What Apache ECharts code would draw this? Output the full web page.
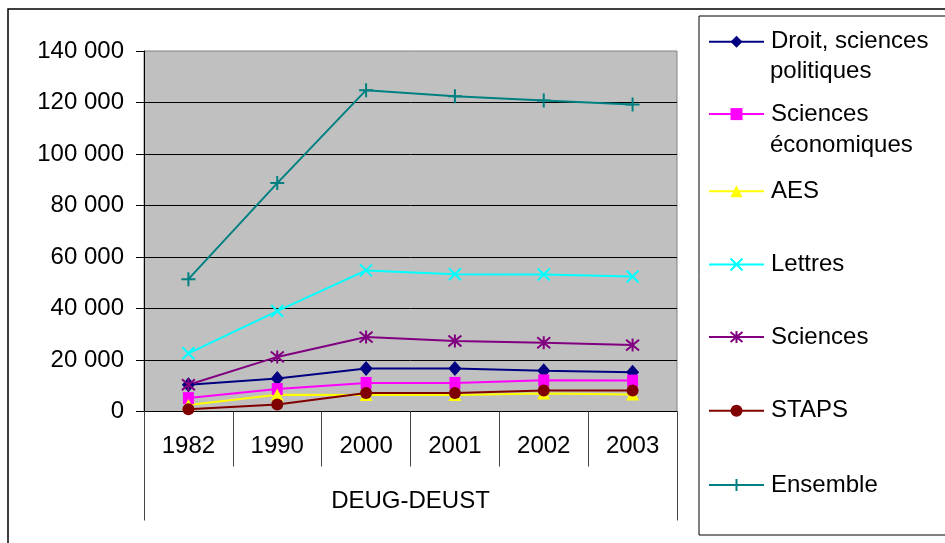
<!DOCTYPE html>
<html>
<head>
<meta charset="utf-8">
<script src="https://cdn.jsdelivr.net/npm/echarts@6/dist/echarts.min.js"></script>
<style>html,body{margin:0;padding:0;background:#fff}#c{width:945px;height:543px}</style>
</head>
<body>
<div id="c"></div>
<script>
const categories = ['1982', '1990', '2000', '2001', '2002', '2003'];
const groupLabel = ['DEUG-DEUST'];
const droit = [10400, 12800, 16700, 16700, 15800, 15200];
const sciEco = [5200, 8700, 11100, 11100, 12100, 12000];
const aes = [2500, 6500, 6400, 6400, 7000, 6600];
const lettres = [22600, 39000, 54800, 53300, 53200, 52400];
const sciences = [10400, 21200, 28900, 27400, 26700, 25800];
const staps = [900, 2700, 7200, 7200, 8200, 8200];
const ensemble = [51400, 88700, 124800, 122400, 120800, 119200];
const yTicks = [0, 20000, 40000, 60000, 80000, 100000, 120000, 140000];

const FONT = "'Liberation Sans', Arial, sans-serif";
const names = ['Droit, sciences', 'Sciences', 'AES', 'Lettres', 'Sciences ', 'STAPS', 'Ensemble'];
const seriesDefs = [
  {name: names[0], data: droit, color: '#000080', symbol: 'diamond', size: [13, 15], stroke: false},
  {name: names[1], data: sciEco, color: '#FF00FF', symbol: 'rect', size: [11, 12], stroke: false},
  {name: names[2], data: aes, color: '#FFFF00', symbol: 'triangle', size: [13, 12], stroke: false},
  {name: names[3], data: lettres, color: '#00FFFF', symbol: 'path://M0,0L10,10M10,0L0,10', size: 12, stroke: true},
  {name: names[4], data: sciences, color: '#800080', symbol: 'path://M0,1L10,11M10,1L0,11M5,0L5,12', size: 13, stroke: true},
  {name: names[5], data: staps, color: '#800000', symbol: 'circle', size: 12, stroke: false},
  {name: names[6], data: ensemble, color: '#008080', symbol: 'path://M5,0L5,10M0,5L10,5', size: 14, stroke: true}
];
const legendY = [41.7, 114.1, 191.2, 264.5, 337.1, 410.8, 485];

const chart = echarts.init(document.getElementById('c'), null, {renderer: 'canvas'});
const fmt = v => String(v).replace(/\B(?=(\d{3})+(?!\d))/g, ' ');

const option = {
  animation: false,
  backgroundColor: '#fff',
  textStyle: {fontFamily: FONT},
  grid: {left: 144, right: 268, top: 51, bottom: 131.5, show: true, backgroundColor: '#C0C0C0', borderColor: '#808080', borderWidth: 1},
  xAxis: [
    {type: 'category', data: categories, boundaryGap: true, position: 'bottom',
     axisLine: {show: true, lineStyle: {color: '#000', width: 1}},
     axisTick: {show: true, interval: 0, length: 55, lineStyle: {color: '#444'}},
     axisLabel: {interval: 0, margin: 23, fontSize: 24, color: '#000', fontFamily: FONT},
     splitLine: {show: false}},
    {type: 'category', data: groupLabel, boundaryGap: true, position: 'bottom',
     axisLine: {show: false},
     axisTick: {show: true, length: 109, lineStyle: {color: '#444'}},
     axisLabel: {margin: 78, fontSize: 24, color: '#000', fontFamily: FONT},
     splitLine: {show: false}}
  ],
  yAxis: {
    type: 'value', min: 0, max: 140000, interval: 20000,
    axisLine: {show: true, lineStyle: {color: '#000'}},
    axisTick: {show: true, length: 8, lineStyle: {color: '#000'}},
    axisLabel: {margin: 20, fontSize: 24, color: '#000', fontFamily: FONT,
      formatter: v => yTicks.includes(v) ? fmt(v) : ''},
    splitLine: {show: true, showMinLine: false, showMaxLine: false, lineStyle: {color: '#000', width: 1}}
  },
  legend: seriesDefs.map((s, i) => ({
    data: [s.name], left: 708, top: legendY[i] - 12, padding: 0, orient: 'vertical',
    itemWidth: 55, itemHeight: 15, itemGap: 0,
    formatter: n => n.trim(),
    textStyle: {fontSize: 24, lineHeight: 24, color: '#000', fontFamily: FONT, padding: [0, 0, 0, 2]},
    selectedMode: false
  })),
  graphic: [
    {type: 'rect', shape: {x: 8, y: 9, width: 960, height: 560}, style: {fill: 'none', stroke: '#000', lineWidth: 1.5}, silent: true, z: -1},
    {type: 'rect', shape: {x: 699, y: 16, width: 300, height: 519}, style: {fill: '#fff', stroke: '#000', lineWidth: 1}, silent: true, z: -1},
    {type: 'text', x: 770, y: 71, style: {text: 'politiques', font: '24px ' + FONT, fill: '#000', textVerticalAlign: 'middle'}, z: 10},
    {type: 'text', x: 770, y: 145, style: {text: 'économiques', font: '24px ' + FONT, fill: '#000', textVerticalAlign: 'middle'}, z: 10}
  ],
  series: seriesDefs.map(s => ({
    name: s.name, type: 'line', data: s.data, xAxisIndex: 0,
    symbol: s.symbol, symbolSize: s.size, showAllSymbol: true,
    lineStyle: {color: s.color, width: 2},
    itemStyle: s.stroke ? {color: s.color, borderColor: s.color, borderWidth: 2} : {color: s.color, borderWidth: 0},
    emphasis: {disabled: true}
  }))
};
chart.setOption(option);
</script>
</body>
</html>
